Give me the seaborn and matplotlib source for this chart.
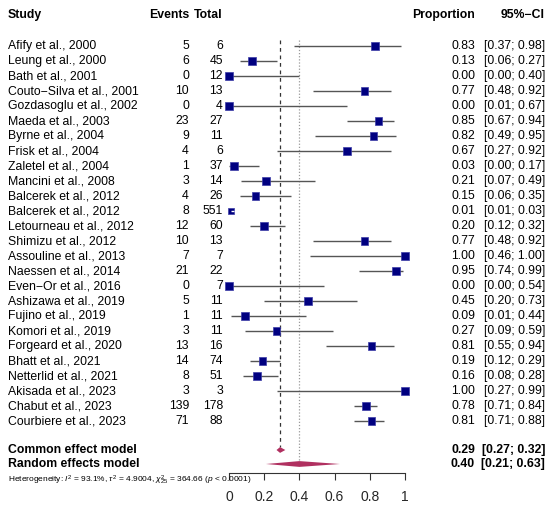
import matplotlib
matplotlib.use("Agg")
import matplotlib.pyplot as plt
from matplotlib.transforms import blended_transform_factory
import seaborn as sns
import pandas as pd
import numpy as np

studies = ["Afify et al., 2000", "Leung et al., 2000", "Bath et al., 2001",
           "Couto\u2212Silva et al., 2001", "Gozdasoglu et al., 2002", "Maeda et al., 2003",
           "Byrne et al., 2004", "Frisk et al., 2004", "Zaletel et al., 2004",
           "Mancini et al., 2008", "Balcerek et al., 2012", "Balcerek et al., 2012",
           "Letourneau et al., 2012", "Shimizu et al., 2012", "Assouline et al., 2013",
           "Naessen et al., 2014", "Even\u2212Or et al., 2016", "Ashizawa et al., 2019",
           "Fujino et al., 2019", "Komori et al., 2019", "Forgeard et al., 2020",
           "Bhatt et al., 2021", "Netterlid et al., 2021", "Akisada et al., 2023",
           "Chabut et al., 2023", "Courbiere et al., 2023"]
events = [5, 6, 0, 10, 0, 23, 9, 4, 1, 3, 4, 8, 12, 10, 7, 21, 0, 5, 1, 3, 13, 14, 8, 3, 139, 71]
totals = [6, 45, 12, 13, 4, 27, 11, 6, 37, 14, 26, 551, 60, 13, 7, 22, 7, 11, 11, 11, 16, 74, 51, 3, 178, 88]
prop = [0.83, 0.13, 0.00, 0.77, 0.00, 0.85, 0.82, 0.67, 0.03, 0.21, 0.15, 0.01, 0.20,
        0.77, 1.00, 0.95, 0.00, 0.45, 0.09, 0.27, 0.81, 0.19, 0.16, 1.00, 0.78, 0.81]
ci_lo = [0.37, 0.06, 0.00, 0.48, 0.01, 0.67, 0.49, 0.27, 0.00, 0.07, 0.06, 0.01, 0.12,
         0.48, 0.46, 0.74, 0.00, 0.20, 0.01, 0.09, 0.55, 0.12, 0.08, 0.27, 0.71, 0.71]
ci_hi = [0.98, 0.27, 0.40, 0.92, 0.67, 0.94, 0.95, 0.92, 0.17, 0.49, 0.35, 0.03, 0.32,
         0.92, 1.00, 0.99, 0.54, 0.73, 0.44, 0.59, 0.94, 0.29, 0.28, 0.99, 0.84, 0.88]
weights = [1.0] * 11 + [0.75] + [1.0] * 14

model_names = ["Common effect model", "Random effects model"]
model_est = [0.29, 0.40]
model_lo = [0.27, 0.21]
model_hi = [0.32, 0.63]

xticks = [0, 0.2, 0.4, 0.6, 0.8, 1]
xticklabels = ["0", "0.2", "0.4", "0.6", "0.8", "1"]
hetero = (r"Heterogeneity: $I^2$ = 93.1%, $\tau^2$ = 4.9004, "
          r"$\chi^2_{25}$ = 364.66 ($p$ < 0.0001)")

sns.set_style("white")
plt.rcParams["font.family"] = ["Liberation Sans", "DejaVu Sans"]
plt.rcParams["mathtext.fontset"] = "custom"
plt.rcParams["mathtext.rm"] = "Liberation Sans"
plt.rcParams["mathtext.it"] = "Liberation Sans:italic"

W, H = 550, 507
fig = plt.figure(figsize=(W / 100, H / 100), dpi=100)
x0, x1 = 229, 405
axis_px = 472.5
ax = fig.add_axes([x0 / W, (H - axis_px) / H, (x1 - x0) / W, axis_px / H])

row0_px, row_step = 46, 15.0
def row(px):
    return (px - row0_px) / row_step

ax.set_xlim(0, 1)
ax.set_ylim(row(axis_px), row(0))

df = pd.DataFrame({"study": studies, "prop": prop, "lo": ci_lo, "hi": ci_hi,
                   "w": weights, "r": np.arange(len(studies))})

# reference lines
ax.vlines(model_est[0], row(40), row(447), colors="#333333", linestyles=(0, (3, 3)),
          linewidth=0.9, zorder=1)
ax.vlines(model_est[1], row(40), row(460), colors="#999999", linestyles=(0, (1, 1.5)),
          linewidth=0.9, zorder=1)

# squares
sns.scatterplot(data=df, x="prop", y="r", size="w", sizes=(22, 30), marker="s",
                color="#000080", edgecolor="#3c3ca8", linewidth=0.5, legend=False,
                ax=ax, zorder=3, clip_on=False)
# CI lines
for _, d in df.iterrows():
    inside = (d.hi - d.lo) * (x1 - x0) < 5
    ax.hlines(d.r, d.lo, d.hi, colors="white" if inside else "#555555",
              linewidth=1.0, zorder=4 if inside else 2, clip_on=False)

# diamonds
for i, (e, lo, hi) in enumerate(zip(model_est, model_lo, model_hi)):
    yr = row(450) if i == 0 else row(464)
    hh = 2.9 / row_step
    ax.fill([lo, e, hi, e], [yr, yr - hh, yr, yr + hh], color="#B03060",
            linewidth=0, zorder=3, clip_on=False)

# axis styling
for s in ["top", "left", "right"]:
    ax.spines[s].set_visible(False)
ax.spines["bottom"].set_bounds(0, 1)
ax.spines["bottom"].set_color("#333333")
ax.spines["bottom"].set_linewidth(0.8)
ax.set_xticks(xticks)
ax.set_xticklabels(xticklabels, fontsize=10)
ax.tick_params(axis="x", direction="out", length=5.3, width=0.8, color="#333333",
               pad=7, bottom=True)
ax.set_yticks([])
ax.set_xlabel("")
ax.set_ylabel("")

tr = blended_transform_factory(fig.transFigure, ax.transData)
fs = 8.8

def t(px, r, s, ha="left", bold=False, size=fs):
    ax.text(px / W, r, s, transform=tr, ha=ha, va="center", fontsize=size,
            fontweight="bold" if bold else "normal", clip_on=False, color="black")

hr = row(15)
t(8, hr, "Study", bold=True)
t(189, hr, "Events", ha="right", bold=True)
t(223, hr, "Total", ha="right", bold=True)
t(475, hr, "Proportion", ha="right", bold=True)
t(545, hr, "95%\u2212CI", ha="right", bold=True)

for i in range(len(studies)):
    t(8, i, studies[i])
    t(189, i, str(events[i]), ha="right")
    t(223, i, str(totals[i]), ha="right")
    t(475, i, f"{prop[i]:.2f}", ha="right")
    t(545, i, f"[{ci_lo[i]:.2f}; {ci_hi[i]:.2f}]", ha="right")

for i, name in enumerate(model_names):
    yr = row(450) if i == 0 else row(464)
    t(8, yr, name, bold=True)
    t(475, yr, f"{model_est[i]:.2f}", ha="right", bold=True)
    t(545, yr, f"[{model_lo[i]:.2f}; {model_hi[i]:.2f}]", ha="right", bold=True)

t(8, row(480.5), hetero, size=6.0)

fig.savefig("out.png", dpi=100, facecolor="white")
